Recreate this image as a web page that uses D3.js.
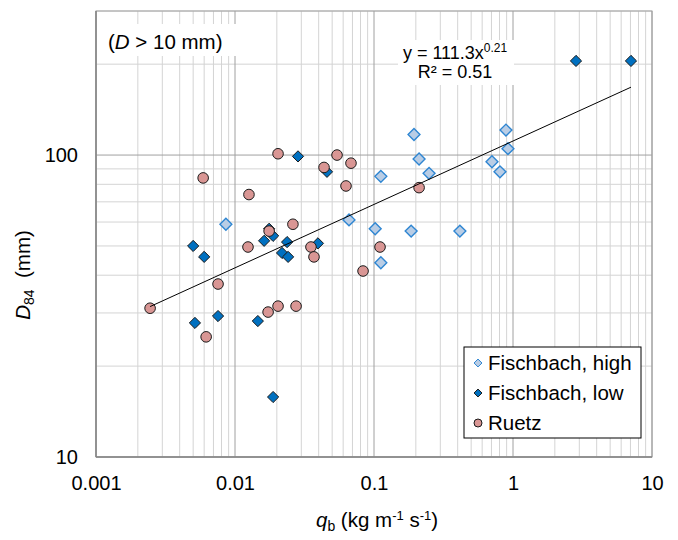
<!DOCTYPE html>
<html lang="en">
<head>
  <meta charset="UTF-8">
  <title>D84 vs qb</title>
  <script src="https://d3js.org/d3.v7.min.js"></script>
  <style>
    body { margin: 0; background: white; }
    text { font-family: 'Liberation Sans', Arial, sans-serif; fill: #000; }
  </style>
</head>
<body>
  <svg width="678" height="540"></svg>

  <script>
    // Data (qb in kg m-1 s-1, D84 in mm)
    const fischbachHighQ = [0.194, 0.89, 0.92, 0.211, 0.706, 0.249, 0.806, 0.112, 0.0661, 0.102, 0.185, 0.415, 0.112, 0.0086];
    const fischbachHighD = [117, 121, 105, 97, 95, 87, 88, 85, 61, 57, 56, 56, 44, 59];

    const fischbachLowQ = [2.84, 7.06, 0.0284, 0.0459, 0.005, 0.006, 0.0162, 0.0188, 0.0176, 0.0237, 0.0218, 0.0241, 0.0395, 0.00515, 0.00755, 0.0146, 0.0188];
    const fischbachLowD = [205, 205, 99, 88, 50, 46, 52, 54, 57, 51.5, 47.4, 46, 51, 27.8, 29.3, 28.2, 15.8];

    const ruetzQ = [0.0204, 0.0542, 0.0437, 0.0683, 0.0059, 0.0629, 0.0126, 0.0261, 0.0176, 0.0124, 0.0352, 0.037, 0.1105, 0.0834, 0.211, 0.00755, 0.00245, 0.0204, 0.0275, 0.0173, 0.0062];
    const ruetzD = [101, 100, 91, 94, 84, 79, 74, 59, 56, 49.6, 49.6, 46, 49.6, 41.3, 78, 37.4, 31.1, 31.6, 31.6, 30.2, 25];

    const xTicks = [0.001, 0.01, 0.1, 1, 10];
    const yTicks = [10, 100];

    // power trendline y = a * x^b
    const trendA = 111.3, trendB = 0.21;

    const svg = d3.select("svg");
    const margin = { top: 11, right: 26, bottom: 83, left: 96 };
    const width = +svg.attr("width") - margin.left - margin.right;
    const height = +svg.attr("height") - margin.top - margin.bottom;
    const g = svg.append("g").attr("transform", "translate(" + margin.left + "," + margin.top + ")");

    const x = d3.scaleLog().domain([0.001, 10]).range([0, width]);
    const y = d3.scaleLog().domain([10, 300]).range([height, 0]);

    // grid values (minor 2..9 per decade)
    const xMinor = [], yMinor = [];
    [0.001, 0.01, 0.1, 1].forEach(d => { for (let k = 2; k <= 9; k++) xMinor.push(d * k); });
    [10, 100].forEach(d => { for (let k = 2; k <= 9; k++) if (d * k <= 300) yMinor.push(d * k); });

    g.selectAll(".xminor").data(xMinor).enter().append("line")
      .attr("x1", d => x(d)).attr("x2", d => x(d))
      .attr("y1", 0).attr("y2", height)
      .attr("stroke", "#d4d4d4").attr("stroke-width", 1);
    g.selectAll(".yminor").data(yMinor).enter().append("line")
      .attr("y1", d => y(d)).attr("y2", d => y(d))
      .attr("x1", 0).attr("x2", width)
      .attr("stroke", "#d4d4d4").attr("stroke-width", 1);
    g.selectAll(".xmajor").data(xTicks).enter().append("line")
      .attr("x1", d => x(d)).attr("x2", d => x(d))
      .attr("y1", 0).attr("y2", height)
      .attr("stroke", "#a0a0a0").attr("stroke-width", 1);
    g.selectAll(".ymajor").data(yTicks).enter().append("line")
      .attr("y1", d => y(d)).attr("y2", d => y(d))
      .attr("x1", 0).attr("x2", width)
      .attr("stroke", "#a0a0a0").attr("stroke-width", 1);

    // plot border
    g.append("rect")
      .attr("width", width).attr("height", height)
      .attr("fill", "none").attr("stroke", "#a0a0a0");
    g.append("line").attr("x1", 0).attr("x2", 0).attr("y1", 0).attr("y2", height)
      .attr("stroke", "#868686").attr("stroke-width", 1.5);
    g.append("line").attr("x1", 0).attr("x2", width).attr("y1", height).attr("y2", height)
      .attr("stroke", "#868686").attr("stroke-width", 1.5);

    // axes (labels only)
    g.append("g")
      .attr("transform", "translate(0," + height + ")")
      .call(d3.axisBottom(x).tickValues(xTicks).tickFormat(d => String(d)).tickSize(0).tickPadding(19));
    g.append("g")
      .call(d3.axisLeft(y).tickValues(yTicks).tickFormat(d => String(d)).tickSize(0).tickPadding(18));
    svg.selectAll(".domain").remove();
    svg.selectAll(".tick text")
      .style("font-size", "20px")
      .style("font-family", "'Liberation Sans', Arial, sans-serif")
      .attr("fill", "#000");

    // annotation boxes
    g.append("rect").attr("x", 3).attr("y", 13).attr("width", 141).attr("height", 32).attr("fill", "white");
    const dLabel = g.append("text").attr("x", 12).attr("y", 38).style("font-size", "20.5px");
    dLabel.append("tspan").text("(");
    dLabel.append("tspan").style("font-style", "italic").text("D");
    dLabel.append("tspan").text(" > 10 mm)");

    g.append("rect").attr("x", 302).attr("y", 29).attr("width", 116).attr("height", 45).attr("fill", "white");
    const eq = g.append("text").attr("x", 359).attr("y", 48).attr("text-anchor", "middle").style("font-size", "18px");
    eq.append("tspan").text("y = " + trendA + "x");
    eq.append("tspan").attr("dy", -7).style("font-size", "12px").text(String(trendB));
    g.append("text").attr("x", 359).attr("y", 67).attr("text-anchor", "middle").style("font-size", "18px")
      .text("R² = 0.51");

    // series
    const diamond = d3.symbol().type(d3.symbolDiamond2);
    const toPts = (qs, ds) => qs.map((q, i) => ({ q: q, d: ds[i] }));

    g.selectAll(".high").data(toPts(fischbachHighQ, fischbachHighD)).enter().append("path")
      .attr("d", diamond.size(90)())
      .attr("transform", d => "translate(" + x(d.q) + "," + y(d.d) + ")")
      .attr("fill", "#b9cde5").attr("stroke", "#2f86d2").attr("stroke-width", 1.4);

    g.selectAll(".low").data(toPts(fischbachLowQ, fischbachLowD)).enter().append("path")
      .attr("d", diamond.size(80)())
      .attr("transform", d => "translate(" + x(d.q) + "," + y(d.d) + ")")
      .attr("fill", "#0070c0").attr("stroke", "#1a1a1a").attr("stroke-width", 1);

    g.selectAll(".ruetz").data(toPts(ruetzQ, ruetzD)).enter().append("circle")
      .attr("cx", d => x(d.q)).attr("cy", d => y(d.d)).attr("r", 5.3)
      .attr("fill", "#d99694").attr("stroke", "#1a1a1a").attr("stroke-width", 1);

    // trendline across the full data range
    const allQ = fischbachHighQ.concat(fischbachLowQ, ruetzQ);
    const qExt = d3.extent(allQ);
    g.append("path")
      .datum(qExt)
      .attr("d", d3.line().x(d => x(d)).y(d => y(trendA * Math.pow(d, trendB))))
      .attr("stroke", "#000").attr("stroke-width", 1).attr("fill", "none");

    // legend
    const legend = [
      { name: "Fischbach, high", type: "high" },
      { name: "Fischbach, low", type: "low" },
      { name: "Ruetz", type: "ruetz" }
    ];
    const lg = svg.append("g").attr("transform", "translate(464,347)");
    lg.append("rect").attr("width", 177).attr("height", 91)
      .attr("fill", "white").attr("stroke", "#000").attr("stroke-width", 1);
    legend.forEach((d, i) => {
      const cy = 16 + i * 30;
      if (d.type === "ruetz") {
        lg.append("circle").attr("cx", 14).attr("cy", cy).attr("r", 4)
          .attr("fill", "#d99694").attr("stroke", "#1a1a1a");
      } else {
        lg.append("path").attr("d", diamond.size(40)())
          .attr("transform", "translate(14," + cy + ")")
          .attr("fill", d.type === "high" ? "#b9cde5" : "#0070c0")
          .attr("stroke", d.type === "high" ? "#2f86d2" : "#1a1a1a");
      }
      lg.append("text").attr("x", 24).attr("y", cy + 7).style("font-size", "20.5px").text(d.name);
    });

    // axis titles
    const xt = svg.append("text").attr("x", 377).attr("y", 527).attr("text-anchor", "middle").style("font-size", "20.5px");
    xt.append("tspan").style("font-style", "italic").text("q");
    xt.append("tspan").attr("dy", 4).style("font-size", "14px").text("b");
    xt.append("tspan").attr("dy", -4).text(" (kg m");
    xt.append("tspan").attr("dy", -7).style("font-size", "13px").text("-1");
    xt.append("tspan").attr("dy", 7).text(" s");
    xt.append("tspan").attr("dy", -7).style("font-size", "13px").text("-1");
    xt.append("tspan").attr("dy", 7).text(")");

    const yt = svg.append("text").attr("transform", "translate(30,275) rotate(-90)")
      .attr("text-anchor", "middle").style("font-size", "20.5px");
    yt.append("tspan").style("font-style", "italic").text("D");
    yt.append("tspan").attr("dy", 4).style("font-size", "14px").text("84");
    yt.append("tspan").attr("dy", -4).text("\u00a0\u00a0(mm)");
  </script>
</body>
</html>
